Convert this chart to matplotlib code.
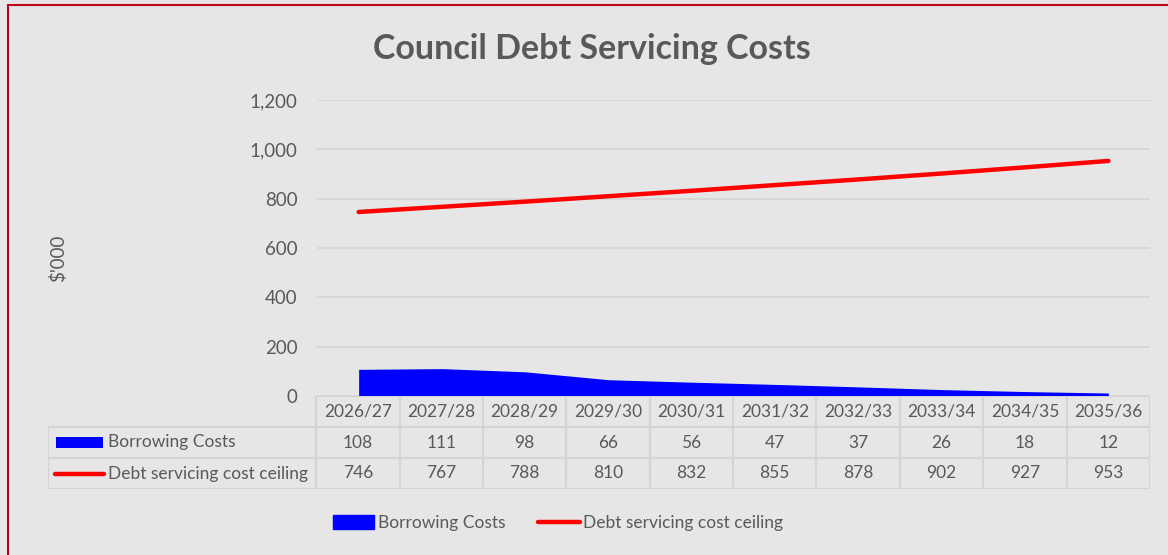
import matplotlib.pyplot as plt
from matplotlib.patches import Rectangle
from matplotlib.lines import Line2D
from matplotlib.ticker import FuncFormatter

# Data
years = ["2026/27", "2027/28", "2028/29", "2029/30", "2030/31",
         "2031/32", "2032/33", "2033/34", "2034/35", "2035/36"]
borrowing_costs = [108, 111, 98, 66, 56, 47, 37, 26, 18, 12]
debt_ceiling = [746, 767, 788, 810, 832, 855, 878, 902, 927, 953]
series_names = ["Borrowing Costs", "Debt servicing cost ceiling"]

BG = "#E6E6E6"
GRID = "#D4D4D4"
TXT = "#595959"
BLUE = "#0000FF"
RED = "#FF0000"
FONT = "Lato"

W, H = 1168, 555
fig = plt.figure(figsize=(W / 100, H / 100), dpi=100, facecolor=BG)


def box(l, t, r, b):
    # pixel box (left, top, right, bottom) -> figure fraction rect
    return [l / W, 1 - b / H, (r - l) / W, (b - t) / H]


# outer border
fig.patches.append(Rectangle((8 / W, -0.01), 1.2, 1 - 5 / H + 0.01, transform=fig.transFigure,
                             fill=False, edgecolor="#C00018", lw=1.5))

# main chart
ax = fig.add_axes(box(317, 100, 1150, 396))
ax.set_facecolor(BG)
x = range(len(years))
ax.fill_between(x, borrowing_costs, 0, color=BLUE, lw=0, label=series_names[0])
ax.plot(x, debt_ceiling, color=RED, lw=3.2, solid_capstyle="round", label=series_names[1])
ax.set_xlim(-0.5, len(years) - 0.5)
ax.set_ylim(0, 1200)
ax.set_yticks(range(0, 1201, 200))
ax.yaxis.set_major_formatter(FuncFormatter(lambda v, p: f"{int(v):,}"))
ax.grid(axis="y", color=GRID, lw=1.2)
ax.set_axisbelow(True)
ax.set_xticks([])
for s in ax.spines.values():
    s.set_visible(False)
ax.tick_params(axis="y", length=0, pad=14, labelsize=13.5, labelcolor=TXT)
for lab in ax.get_yticklabels():
    lab.set_fontfamily(FONT)

fig.text(592 / W, 1 - 49 / H, "Council Debt Servicing Costs", ha="center", va="center",
         fontsize=24.5, fontweight="bold", color=TXT, family=FONT)
fig.text(58 / W, 1 - 258 / H, "$'000", rotation=90, ha="center", va="center",
         fontsize=13.5, color=TXT, family=FONT)

# data table
tb = fig.add_axes(box(48, 396, 1150, 489))
tb.set_facecolor("none")
tb.axis("off")
lab_w = 268 / 83.3
x0 = -0.5 - lab_w
n = len(years)
tb.set_xlim(x0, n - 0.5)
tb.set_ylim(3, 0)
lc = dict(color=GRID, lw=1.6)
# horizontal lines
tb.plot([-0.5, n - 0.5], [0, 0], **lc)
for yy in (1, 2, 3):
    tb.plot([x0, n - 0.5], [yy, yy], **lc)
# vertical lines
tb.plot([x0, x0], [1, 3], **lc)
for i in range(n + 1):
    tb.plot([i - 0.5, i - 0.5], [0, 3], **lc)
tfont = dict(fontsize=12.5, color=TXT, family=FONT, ha="center", va="center")
for i, yr in enumerate(years):
    tb.text(i, 0.5, yr, **tfont)
    tb.text(i, 1.5, str(borrowing_costs[i]), **tfont)
    tb.text(i, 2.5, str(debt_ceiling[i]), **tfont)
# row keys
tb.add_patch(Rectangle((x0 + 0.09, 1.33), 0.57, 0.34, color=BLUE, lw=0))
tb.plot([x0 + 0.08, x0 + 0.67], [2.5, 2.5], color=RED, lw=3.2, solid_capstyle="round")
tb.text(x0 + 0.72, 1.5, series_names[0], fontsize=12.5, color=TXT, family=FONT, va="center")
tb.text(x0 + 0.72, 2.5, series_names[1], fontsize=12.5, color=TXT, family=FONT, va="center")

# legend
handles = [Rectangle((0, 0), 1, 1, color=BLUE),
           Line2D([0], [0], color=RED, lw=3.2, solid_capstyle="round")]
leg = fig.legend(handles, series_names, loc="center", bbox_to_anchor=(558 / W, 1 - 523 / H),
                 ncol=2, frameon=False, handlelength=2.4, handleheight=0.8,
                 handletextpad=0.2, columnspacing=1.9, prop={"family": FONT, "size": 12.5})
for t in leg.get_texts():
    t.set_color(TXT)

fig.savefig("out.png", dpi=100, facecolor=BG)
